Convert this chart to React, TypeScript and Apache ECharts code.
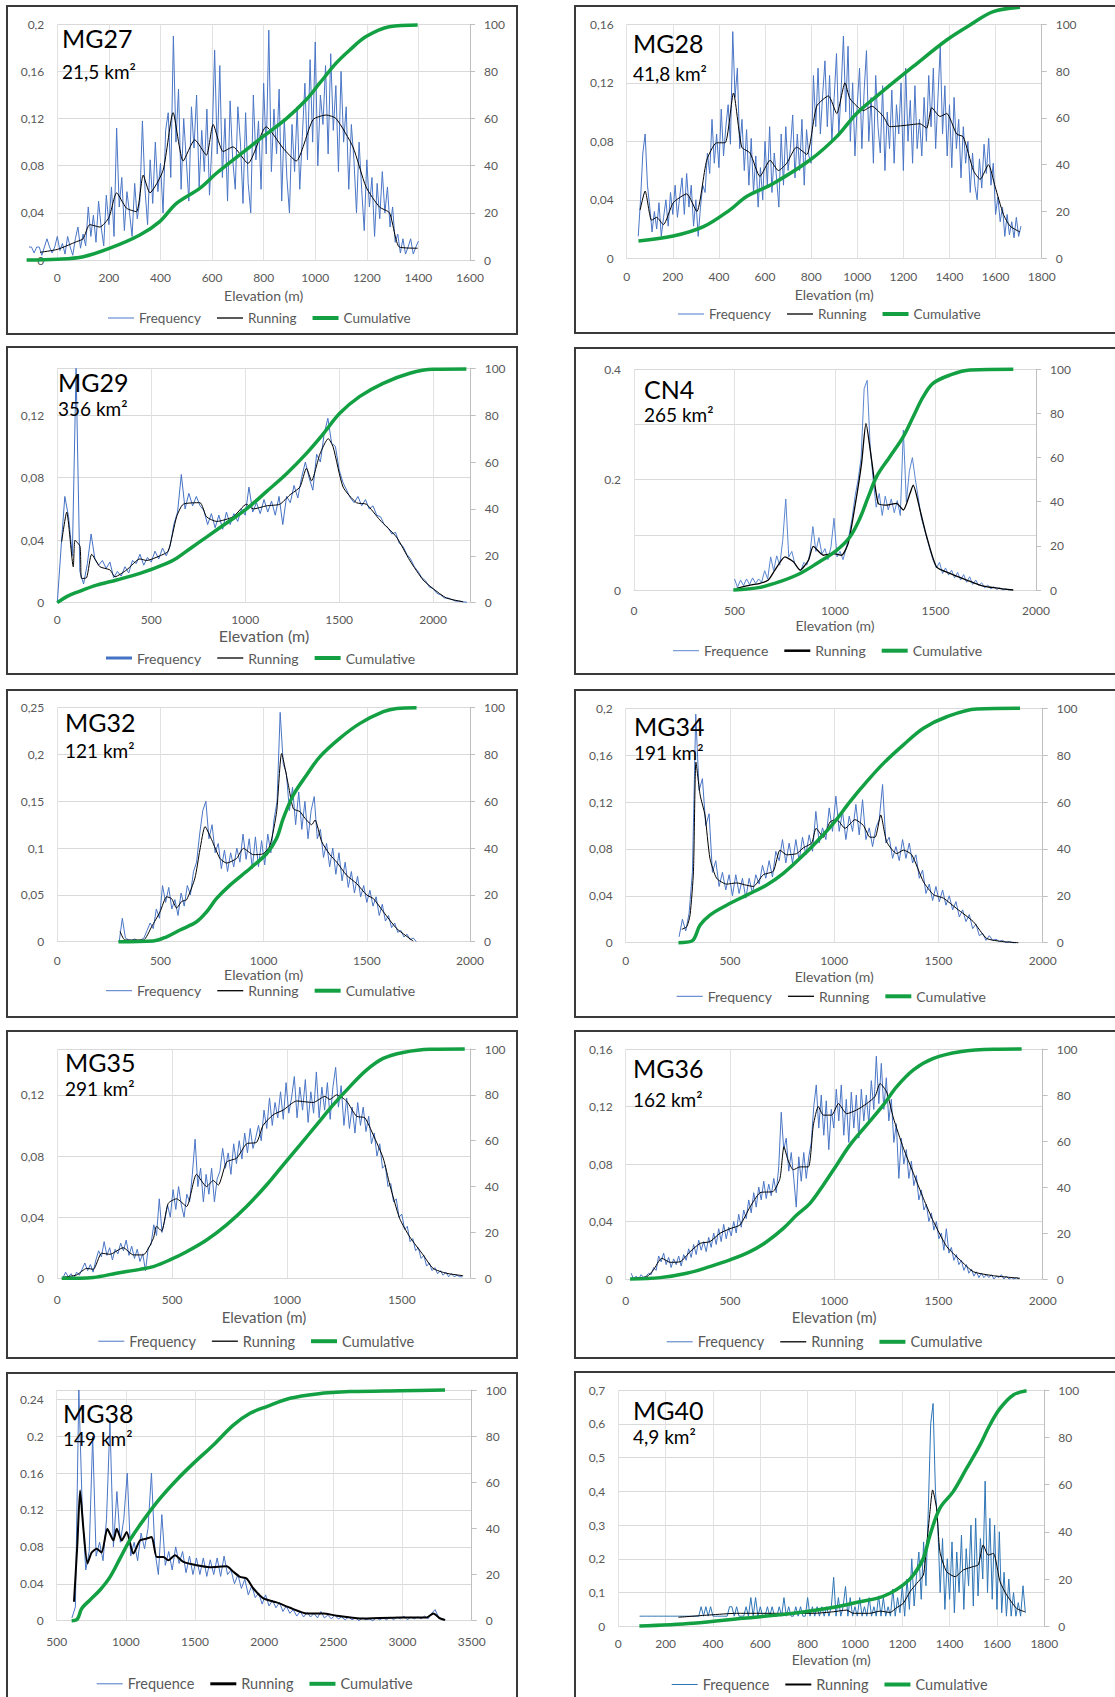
import React, { useEffect, useRef } from "react";
import * as echarts from "echarts";

const FONT = "Lato, 'Open Sans', sans-serif";

// ---------- MG27 ----------
const MG27_FREQ_START = -110;
const MG27_FREQ_STEP = 10;
const MG27_FREQ = [
  0.011, 0.011, 0.006, 0.011, 0.011, 0.004, 0.011, 0.018, 0.011, 0.006, 0.011, 0.02, 0.008, 0.014, 0.005, 0.02,
  0.011, 0.004, 0.018, 0.028, 0.01, 0.022, 0.012, 0.045, 0.02, 0.038, 0.015, 0.05, 0.028, 0.012, 0.055, 0.03,
  0.062, 0.02, 0.112, 0.045, 0.07, 0.025, 0.058, 0.04, 0.02, 0.065, 0.035, 0.05, 0.118, 0.06, 0.03, 0.085,
  0.048, 0.1, 0.058, 0.082, 0.04, 0.11, 0.125, 0.07, 0.19, 0.1, 0.145, 0.06, 0.12, 0.085, 0.05, 0.13,
  0.095, 0.14, 0.062, 0.11, 0.075, 0.128, 0.055, 0.1, 0.178, 0.09, 0.165, 0.07, 0.12, 0.05, 0.135, 0.085,
  0.06, 0.13, 0.1, 0.048, 0.125, 0.065, 0.04, 0.14, 0.085, 0.118, 0.06, 0.15, 0.09, 0.195, 0.075, 0.128,
  0.09, 0.145, 0.05, 0.12, 0.07, 0.04, 0.115, 0.075, 0.13, 0.06, 0.105, 0.15, 0.085, 0.17, 0.1, 0.185,
  0.08, 0.14, 0.115, 0.165, 0.09, 0.175, 0.11, 0.148, 0.075, 0.16, 0.1, 0.13, 0.06, 0.115, 0.085, 0.04,
  0.1, 0.06, 0.025, 0.085, 0.045, 0.07, 0.02, 0.065, 0.035, 0.075, 0.04, 0.062, 0.028, 0.045, 0.015, 0.022,
  0.006, 0.018, 0.005, 0.011, 0.018, 0.005, 0.011, 0.016,
];
const MG27_RUNNING = [
  [-67, 0.0065], [0, 0.009], [75, 0.0156], [100, 0.018], [126, 0.03], [165, 0.028], [200, 0.036], [230, 0.057],
  [268, 0.044], [307, 0.041], [333, 0.072], [359, 0.057], [410, 0.076], [449, 0.125], [488, 0.084], [533, 0.102],
  [578, 0.089], [604, 0.115], [643, 0.092], [681, 0.096], [739, 0.082], [810, 0.113], [875, 0.095], [926, 0.084],
  [991, 0.119], [1043, 0.123], [1081, 0.12], [1146, 0.096], [1197, 0.062], [1249, 0.045], [1288, 0.04],
  [1326, 0.011], [1397, 0.01],
];
const MG27_CUMULATIVE = [
  [-119, 0], [0, 0.3], [101, 1.4], [204, 5], [320, 10.6], [397, 16.3], [462, 24], [552, 30.4], [617, 36.8],
  [707, 44.6], [797, 52.3], [888, 60], [965, 68], [1017, 75], [1081, 83.5], [1133, 89], [1197, 94.8],
  [1287, 99], [1397, 99.7],
];

// ---------- MG28 ----------
const MG28_FREQ_START = 50;
const MG28_FREQ_STEP = 10;
const MG28_FREQ = [
  0.015, 0.04, 0.072, 0.085, 0.05, 0.035, 0.018, 0.032, 0.02, 0.038, 0.015, 0.028, 0.04, 0.022, 0.045, 0.03,
  0.05, 0.028, 0.042, 0.055, 0.03, 0.058, 0.035, 0.05, 0.022, 0.04, 0.015, 0.035, 0.05, 0.045, 0.072, 0.058,
  0.095, 0.065, 0.085, 0.062, 0.102, 0.07, 0.09, 0.105, 0.078, 0.155, 0.11, 0.13, 0.075, 0.095, 0.06, 0.088,
  0.05, 0.082, 0.045, 0.07, 0.035, 0.062, 0.04, 0.08, 0.05, 0.09, 0.045, 0.072, 0.055, 0.035, 0.085, 0.05,
  0.09, 0.06, 0.075, 0.098, 0.055, 0.085, 0.06, 0.095, 0.05, 0.088, 0.07, 0.065, 0.125, 0.09, 0.13, 0.085,
  0.112, 0.135, 0.09, 0.125, 0.08, 0.11, 0.14, 0.085, 0.115, 0.152, 0.1, 0.145, 0.08, 0.12, 0.07, 0.105,
  0.13, 0.075, 0.115, 0.142, 0.08, 0.11, 0.065, 0.125, 0.09, 0.072, 0.118, 0.06, 0.1, 0.075, 0.115, 0.065,
  0.105, 0.085, 0.12, 0.06, 0.13, 0.08, 0.108, 0.065, 0.118, 0.075, 0.095, 0.07, 0.11, 0.08, 0.125, 0.09,
  0.13, 0.075, 0.11, 0.145, 0.085, 0.118, 0.07, 0.105, 0.062, 0.11, 0.075, 0.095, 0.055, 0.09, 0.065, 0.08,
  0.045, 0.072, 0.05, 0.04, 0.068, 0.048, 0.078, 0.058, 0.082, 0.05, 0.065, 0.03, 0.042, 0.025, 0.035, 0.015,
  0.03, 0.016, 0.025, 0.014, 0.028, 0.015, 0.022,
];
const MG28_RUNNING = [
  [58, 0.033], [80, 0.046], [108, 0.026], [130, 0.028], [159, 0.023], [202, 0.038], [260, 0.044], [304, 0.032],
  [347, 0.067], [390, 0.079], [427, 0.079], [463, 0.113], [499, 0.076], [535, 0.072], [578, 0.056], [622, 0.067],
  [658, 0.06], [694, 0.065], [737, 0.076], [781, 0.071], [824, 0.104], [875, 0.111], [911, 0.099], [947, 0.12],
  [969, 0.109], [1027, 0.101], [1063, 0.104], [1113, 0.097], [1142, 0.09], [1214, 0.091], [1272, 0.092],
  [1301, 0.089], [1323, 0.103], [1359, 0.097], [1388, 0.099], [1431, 0.085], [1460, 0.083], [1504, 0.06],
  [1533, 0.054], [1569, 0.064], [1598, 0.049], [1634, 0.03], [1663, 0.022], [1706, 0.018],
];
const MG28_CUMULATIVE = [
  [51, 7.4], [202, 9.5], [333, 13.5], [448, 20.7], [520, 26.4], [636, 32], [795, 42], [911, 52], [998, 62],
  [1099, 70.5], [1243, 82], [1388, 93.3], [1489, 99.7], [1590, 105.4], [1706, 107.3],
];

// ---------- MG29 ----------
const MG29_FREQ_START = 0;
const MG29_FREQ_STEP = 20;
const MG29_FREQ = [
  0.0, 0.035, 0.068, 0.055, 0.03, 0.15, 0.02, 0.012, 0.025, 0.044, 0.028, 0.024, 0.027, 0.022, 0.026, 0.016,
  0.02, 0.017, 0.023, 0.019, 0.027, 0.025, 0.031, 0.024, 0.029, 0.026, 0.033, 0.028, 0.035, 0.03, 0.036, 0.05,
  0.058, 0.082, 0.06, 0.07, 0.062, 0.068, 0.062, 0.059, 0.05, 0.057, 0.048, 0.056, 0.047, 0.058, 0.05, 0.057,
  0.052, 0.06, 0.056, 0.074, 0.058, 0.064, 0.057, 0.066, 0.058, 0.065, 0.056, 0.068, 0.05, 0.068, 0.064, 0.075,
  0.067, 0.08, 0.09, 0.08, 0.072, 0.095, 0.09, 0.108, 0.118, 0.102, 0.1, 0.085, 0.077, 0.072, 0.067, 0.064,
  0.068, 0.062, 0.066, 0.06, 0.062, 0.056, 0.055, 0.05, 0.048, 0.044, 0.045, 0.038, 0.036, 0.031, 0.028, 0.023,
  0.02, 0.016, 0.014, 0.01, 0.009, 0.006, 0.005, 0.003, 0.003, 0.002, 0.001, 0.001, 0.0005, 0.0003,
];
const MG29_RUNNING = [
  [23, 0.039], [50, 0.058], [85, 0.023], [94, 0.04], [121, 0.036], [129, 0.0155], [156, 0.016], [183, 0.031],
  [227, 0.023], [280, 0.021], [307, 0.0166], [369, 0.021], [440, 0.028], [475, 0.027], [546, 0.03], [590, 0.033],
  [635, 0.055], [670, 0.063], [759, 0.064], [794, 0.055], [848, 0.052], [936, 0.055], [1007, 0.063], [1043, 0.06],
  [1113, 0.062], [1184, 0.063], [1238, 0.069], [1291, 0.074], [1326, 0.086], [1353, 0.078], [1397, 0.095],
  [1442, 0.105], [1468, 0.0996], [1521, 0.074], [1592, 0.064], [1645, 0.063], [1716, 0.053], [1805, 0.042],
  [1876, 0.027], [1947, 0.0145], [2000, 0.009], [2071, 0.003], [2160, 0.0006],
];
const MG29_CUMULATIVE = [
  [0, 0], [50, 2.6], [103, 4.4], [209, 7.5], [316, 9.7], [440, 12.5], [582, 16.8], [635, 19], [706, 23],
  [794, 28], [901, 34], [1007, 40], [1113, 47.4], [1220, 55], [1326, 63.7], [1415, 72], [1503, 80.8],
  [1610, 88], [1734, 93.6], [1876, 97.9], [2000, 99.6], [2177, 99.7],
];

// ---------- CN4 ----------
const CN4_FREQ_START = 500;
const CN4_FREQ_STEP = 15;
const CN4_FREQ = [
  0.02, 0.005, 0.018, 0.008, 0.02, 0.01, 0.022, 0.012, 0.02, 0.014, 0.035, 0.02, 0.06, 0.035, 0.062, 0.045,
  0.09, 0.165, 0.06, 0.07, 0.048, 0.04, 0.035, 0.05, 0.045, 0.065, 0.115, 0.07, 0.095, 0.065, 0.075, 0.055,
  0.078, 0.13, 0.06, 0.07, 0.055, 0.075, 0.1, 0.13, 0.17, 0.2, 0.24, 0.365, 0.38, 0.26, 0.2, 0.15,
  0.175, 0.135, 0.17, 0.145, 0.165, 0.14, 0.162, 0.135, 0.29, 0.16, 0.215, 0.24, 0.2, 0.165, 0.13, 0.11,
  0.09, 0.07, 0.052, 0.04, 0.05, 0.03, 0.04, 0.027, 0.036, 0.022, 0.032, 0.018, 0.028, 0.014, 0.024, 0.01,
  0.018, 0.008, 0.013, 0.004, 0.009, 0.002, 0.006, 0.001, 0.004, 0.0, 0.002, 0.0, 0.001,
];
const CN4_RUNNING = [
  [511, 0.003], [577, 0.009], [627, 0.012], [668, 0.018], [701, 0.036], [751, 0.06], [793, 0.051], [826, 0.036],
  [868, 0.054], [892, 0.079], [942, 0.063], [992, 0.066], [1033, 0.063], [1066, 0.085], [1099, 0.151],
  [1132, 0.229], [1154, 0.302], [1182, 0.236], [1215, 0.157], [1257, 0.154], [1306, 0.157], [1340, 0.145],
  [1373, 0.175], [1389, 0.19], [1423, 0.145], [1456, 0.097], [1505, 0.042], [1572, 0.03], [1655, 0.018],
  [1738, 0.007], [1887, 0],
];
const CN4_CUMULATIVE = [
  [494, 0], [627, 1.2], [726, 3.8], [826, 7.5], [909, 12], [1008, 18], [1074, 24], [1124, 32.5], [1166, 42.3],
  [1207, 51.4], [1273, 60.4], [1340, 69.5], [1389, 78.5], [1439, 87.6], [1489, 93.7], [1572, 97.4],
  [1671, 99.7], [1887, 100],
];

// ---------- MG32 ----------
const MG32_FREQ_START = 300;
const MG32_FREQ_STEP = 15;
const MG32_FREQ = [
  0.0, 0.025, 0.004, 0.002, 0.001, 0.003, 0.001, 0.002, 0.004, 0.012, 0.02, 0.014, 0.035, 0.025, 0.06, 0.042,
  0.058, 0.035, 0.045, 0.028, 0.052, 0.038, 0.06, 0.05, 0.075, 0.085, 0.115, 0.14, 0.15, 0.11, 0.125, 0.095,
  0.105, 0.078, 0.098, 0.075, 0.095, 0.08, 0.1, 0.085, 0.115, 0.088, 0.11, 0.078, 0.112, 0.08, 0.108, 0.082,
  0.115, 0.095, 0.13, 0.15, 0.245, 0.19, 0.18, 0.14, 0.165, 0.125, 0.16, 0.12, 0.15, 0.11, 0.14, 0.155,
  0.11, 0.12, 0.09, 0.105, 0.08, 0.1, 0.072, 0.095, 0.065, 0.085, 0.058, 0.075, 0.052, 0.07, 0.048, 0.06,
  0.042, 0.055, 0.038, 0.048, 0.028, 0.04, 0.022, 0.028, 0.015, 0.02, 0.01, 0.012, 0.005, 0.008, 0.002, 0.004,
  0.0,
];
const MG32_RUNNING = [
  [304, 0.011], [328, 0.0018], [417, 0.0018], [457, 0.016], [498, 0.032], [530, 0.048], [554, 0.046],
  [578, 0.036], [603, 0.043], [627, 0.045], [667, 0.068], [691, 0.098], [716, 0.123], [748, 0.109], [788, 0.089],
  [821, 0.084], [869, 0.089], [902, 0.0997], [950, 0.093], [999, 0.094], [1031, 0.103], [1063, 0.139],
  [1087, 0.201], [1120, 0.167], [1144, 0.142], [1176, 0.139], [1200, 0.132], [1233, 0.125], [1249, 0.13],
  [1281, 0.107], [1321, 0.093], [1354, 0.085], [1402, 0.071], [1451, 0.062], [1499, 0.05], [1532, 0.046],
  [1580, 0.032], [1645, 0.014], [1725, 0.0007],
];
const MG32_CUMULATIVE = [
  [296, 0], [465, 0.3], [530, 2.1], [595, 5], [675, 8.5], [724, 12.8], [772, 18.5], [837, 24.2], [934, 31.3],
  [1015, 37.7], [1063, 44.2], [1095, 52.7], [1144, 62.7], [1208, 71.2], [1272, 79], [1370, 87], [1467, 93.3],
  [1580, 98.3], [1645, 99.7], [1741, 100],
];

// ---------- MG34 ----------
const MG34_FREQ_START = 256;
const MG34_FREQ_STEP = 16;
const MG34_FREQ = [
  0.005, 0.02, 0.01, 0.025, 0.06, 0.195, 0.13, 0.14, 0.1, 0.11, 0.06, 0.07, 0.048, 0.06, 0.045, 0.058,
  0.04, 0.058, 0.042, 0.055, 0.038, 0.055, 0.042, 0.058, 0.05, 0.066, 0.055, 0.07, 0.056, 0.078, 0.07, 0.088,
  0.068, 0.085, 0.068, 0.088, 0.07, 0.09, 0.075, 0.092, 0.078, 0.112, 0.085, 0.098, 0.088, 0.115, 0.095, 0.125,
  0.095, 0.112, 0.088, 0.108, 0.095, 0.118, 0.092, 0.122, 0.088, 0.098, 0.082, 0.098, 0.105, 0.135, 0.085, 0.09,
  0.072, 0.082, 0.07, 0.088, 0.072, 0.085, 0.068, 0.075, 0.055, 0.062, 0.042, 0.05, 0.036, 0.048, 0.035, 0.045,
  0.032, 0.04, 0.028, 0.035, 0.022, 0.028, 0.018, 0.024, 0.012, 0.016, 0.006, 0.008, 0.002, 0.006, 0.002, 0.003,
  0.001, 0.002, 0.0, 0.001, 0.0, 0.0,
];
const MG34_RUNNING = [
  [269, 0.0114], [293, 0.0137], [309, 0.024], [325, 0.061], [337, 0.154], [357, 0.126], [380, 0.109],
  [404, 0.072], [436, 0.055], [484, 0.05], [532, 0.051], [580, 0.049], [612, 0.048], [660, 0.058], [708, 0.061],
  [740, 0.079], [772, 0.075], [820, 0.076], [852, 0.081], [892, 0.085], [913, 0.0976], [948, 0.09], [980, 0.103],
  [1012, 0.105], [1052, 0.0976], [1100, 0.105], [1140, 0.1], [1172, 0.09], [1196, 0.09], [1223, 0.109],
  [1252, 0.086], [1300, 0.076], [1332, 0.079], [1372, 0.075], [1428, 0.052], [1476, 0.041], [1524, 0.038],
  [1588, 0.029], [1667, 0.018], [1731, 0.0037], [1811, 0.0009], [1883, 0],
];
const MG34_CUMULATIVE = [
  [253, 0], [317, 0.7], [357, 7.5], [404, 11.8], [484, 16], [580, 20.3], [676, 24.6], [756, 29.6], [836, 36],
  [916, 43.1], [996, 50.9], [1076, 60.2], [1156, 68.7], [1236, 76.5], [1332, 84.4], [1428, 91.5], [1540, 96.4],
  [1683, 99.7], [1891, 100],
];

// ---------- MG35 ----------
const MG35_FREQ_START = 24;
const MG35_FREQ_STEP = 12;
const MG35_FREQ = [
  0.0, 0.004, 0.001, 0.003, 0.0, 0.004, 0.002, 0.006, 0.01, 0.005, 0.009, 0.004, 0.012, 0.018, 0.014, 0.024,
  0.015, 0.02, 0.012, 0.019, 0.016, 0.023, 0.018, 0.025, 0.015, 0.021, 0.013, 0.019, 0.011, 0.016, 0.005, 0.02,
  0.022, 0.035, 0.028, 0.052, 0.03, 0.038, 0.048, 0.04, 0.058, 0.045, 0.06, 0.048, 0.04, 0.055, 0.05, 0.068,
  0.091, 0.06, 0.072, 0.05, 0.068, 0.055, 0.072, 0.05, 0.065, 0.07, 0.085, 0.072, 0.082, 0.068, 0.088, 0.075,
  0.09, 0.078, 0.095, 0.082, 0.098, 0.085, 0.092, 0.1, 0.09, 0.11, 0.098, 0.118, 0.1, 0.115, 0.105, 0.122,
  0.104, 0.128, 0.108, 0.118, 0.132, 0.105, 0.125, 0.11, 0.13, 0.102, 0.122, 0.108, 0.135, 0.105, 0.125, 0.11,
  0.128, 0.104, 0.125, 0.138, 0.112, 0.126, 0.1, 0.118, 0.098, 0.112, 0.095, 0.115, 0.1, 0.112, 0.096, 0.106,
  0.088, 0.095, 0.08, 0.088, 0.072, 0.074, 0.06, 0.062, 0.05, 0.052, 0.04, 0.042, 0.032, 0.034, 0.024, 0.026,
  0.018, 0.02, 0.013, 0.015, 0.008, 0.01, 0.005, 0.007, 0.003, 0.005, 0.002, 0.004, 0.001, 0.003, 0.001, 0.002,
  0.001, 0.001,
];
const MG35_RUNNING = [
  [26, 0.0007], [84, 0.0022], [128, 0.0065], [157, 0.0059], [193, 0.0164], [229, 0.0157], [287, 0.02],
  [331, 0.0153], [374, 0.0153], [418, 0.026], [432, 0.034], [454, 0.031], [483, 0.049], [519, 0.052],
  [563, 0.047], [606, 0.068], [650, 0.06], [679, 0.064], [701, 0.061], [737, 0.076], [781, 0.0786], [824, 0.088],
  [868, 0.089], [896, 0.1], [940, 0.107], [983, 0.11], [1042, 0.116], [1114, 0.115], [1165, 0.119],
  [1187, 0.117], [1216, 0.12], [1259, 0.116], [1303, 0.106], [1339, 0.105], [1375, 0.094], [1419, 0.0786],
  [1448, 0.061], [1491, 0.039], [1535, 0.027], [1593, 0.0153], [1636, 0.0065], [1694, 0.0033], [1767, 0.0017],
];
const MG35_CUMULATIVE = [
  [19, 0], [157, 0.4], [258, 2.2], [360, 3.9], [418, 5.1], [490, 8], [563, 11.6], [650, 16.7], [737, 23.3],
  [824, 31.3], [911, 40.7], [983, 49.4], [1056, 58.1], [1129, 66.9], [1201, 75.6], [1274, 83.6], [1346, 90.8],
  [1419, 95.9], [1506, 98.5], [1622, 99.9], [1774, 100],
];

// ---------- MG36 ----------
const MG36_FREQ_START = 26;
const MG36_FREQ_STEP = 12;
const MG36_FREQ = [
  0.004, 0.0, 0.002, 0.0, 0.003, 0.001, 0.002, 0.004, 0.003, 0.008, 0.006, 0.016, 0.012, 0.018, 0.01, 0.015,
  0.008, 0.014, 0.01, 0.016, 0.009, 0.017, 0.013, 0.021, 0.015, 0.024, 0.017, 0.027, 0.02, 0.026, 0.019, 0.029,
  0.022, 0.032, 0.024, 0.035, 0.026, 0.038, 0.028, 0.036, 0.03, 0.04, 0.032, 0.045, 0.036, 0.048, 0.042, 0.055,
  0.046, 0.06, 0.05, 0.064, 0.055, 0.068, 0.056, 0.066, 0.058, 0.07, 0.06, 0.078, 0.116, 0.09, 0.098, 0.075,
  0.088, 0.07, 0.05, 0.085, 0.068, 0.088, 0.07, 0.085, 0.095, 0.12, 0.135, 0.105, 0.128, 0.1, 0.124, 0.09,
  0.118, 0.105, 0.132, 0.11, 0.135, 0.1, 0.125, 0.095, 0.13, 0.105, 0.128, 0.098, 0.132, 0.11, 0.128, 0.108,
  0.138, 0.118, 0.155, 0.122, 0.15, 0.118, 0.14, 0.11, 0.125, 0.095, 0.108, 0.07, 0.098, 0.08, 0.09, 0.07,
  0.082, 0.065, 0.072, 0.055, 0.062, 0.048, 0.052, 0.04, 0.046, 0.034, 0.04, 0.028, 0.032, 0.02, 0.035, 0.018,
  0.022, 0.013, 0.017, 0.01, 0.013, 0.006, 0.01, 0.004, 0.007, 0.002, 0.005, 0.001, 0.004, 0.001, 0.003, 0.001,
  0.003, 0.0, 0.002, 0.001, 0.003, 0.0, 0.002, 0.0, 0.001, 0.0, 0.001, 0.0,
];
const MG36_RUNNING = [
  [29, 0.0005], [101, 0.0016], [133, 0.0063], [173, 0.0144], [213, 0.0116], [261, 0.012], [309, 0.019],
  [357, 0.0248], [404, 0.026], [452, 0.0318], [500, 0.035], [548, 0.0376], [596, 0.05], [644, 0.06],
  [708, 0.061], [740, 0.07], [759, 0.092], [780, 0.082], [804, 0.076], [836, 0.078], [876, 0.078], [900, 0.107],
  [924, 0.12], [948, 0.114], [988, 0.114], [1020, 0.122], [1060, 0.115], [1108, 0.1176], [1156, 0.122],
  [1196, 0.127], [1220, 0.136], [1252, 0.13], [1284, 0.112], [1332, 0.091], [1380, 0.0735], [1428, 0.056],
  [1476, 0.04], [1540, 0.0225], [1604, 0.0132], [1667, 0.0051], [1763, 0.0023], [1891, 0.0005],
];
const MG36_CUMULATIVE = [
  [21, 0], [165, 0.6], [293, 2.5], [404, 5.4], [500, 8.3], [596, 11.9], [676, 16.2], [756, 22], [820, 27.8],
  [884, 32.9], [948, 40.9], [1012, 49.6], [1076, 58.3], [1156, 67], [1236, 75.7], [1300, 83.6], [1380, 90.9],
  [1476, 95.9], [1604, 98.8], [1763, 99.9], [1899, 100],
];

// ---------- MG38 ----------
const MG38_FREQ_START = 610;
const MG38_FREQ_STEP = 25;
const MG38_FREQ = [
  0.003, 0.015, 0.25, 0.12, 0.055, 0.075, 0.2, 0.07, 0.085, 0.065, 0.11, 0.215, 0.08, 0.14, 0.085, 0.11,
  0.16, 0.07, 0.085, 0.065, 0.095, 0.078, 0.1, 0.16, 0.075, 0.05, 0.115, 0.06, 0.075, 0.055, 0.08, 0.062,
  0.075, 0.052, 0.07, 0.05, 0.068, 0.05, 0.068, 0.048, 0.066, 0.05, 0.068, 0.048, 0.07, 0.05, 0.055, 0.04,
  0.05, 0.035, 0.045, 0.028, 0.038, 0.025, 0.03, 0.018, 0.028, 0.016, 0.022, 0.014, 0.02, 0.01, 0.016, 0.008,
  0.012, 0.005, 0.01, 0.004, 0.009, 0.004, 0.008, 0.003, 0.01, 0.003, 0.006, 0.002, 0.006, 0.002, 0.004, 0.001,
  0.004, 0.001, 0.003, 0.0, 0.003, 0.001, 0.002, 0.0, 0.003, 0.001, 0.003, 0.001, 0.004, 0.001, 0.004, 0.002,
  0.005, 0.001, 0.004, 0.002, 0.004, 0.002, 0.005, 0.002, 0.008, 0.012, 0.004, 0.002, 0.001,
];
const MG38_RUNNING = [
  [625, 0.0205], [649, 0.082], [669, 0.141], [693, 0.0996], [722, 0.062], [753, 0.074], [789, 0.078],
  [825, 0.074], [866, 0.0996], [910, 0.087], [934, 0.0996], [970, 0.087], [1006, 0.096], [1054, 0.0727],
  [1102, 0.087], [1151, 0.089], [1187, 0.0906], [1223, 0.069], [1271, 0.069], [1307, 0.0655], [1355, 0.0709],
  [1416, 0.0637], [1512, 0.06], [1608, 0.058], [1729, 0.059], [1777, 0.053], [1825, 0.0475], [1873, 0.0457],
  [1922, 0.0349], [1994, 0.0241], [2090, 0.0198], [2187, 0.014], [2307, 0.0079], [2427, 0.0079],
  [2524, 0.0054], [2693, 0.0025], [2982, 0.0036], [3175, 0.0036], [3223, 0.0079], [3271, 0.0025], [3307, 0.0007],
];
const MG38_CUMULATIVE = [
  [608, 0], [649, 0.7], [681, 5.3], [741, 9], [813, 13.3], [886, 19], [958, 27], [1030, 35], [1127, 43.6],
  [1247, 53], [1367, 61], [1488, 68.2], [1633, 76.2], [1777, 84.8], [1898, 89.9], [2018, 92.8], [2187, 96.4],
  [2380, 98.3], [2620, 99.3], [2982, 99.7], [3307, 100],
];

// ---------- MG40 ----------
const MG40_FREQ_START = 90;
const MG40_FREQ_STEP = 10;
const MG40_FREQ = [
  0.03, 0.03, 0.03, 0.03, 0.03, 0.03, 0.03, 0.03, 0.03, 0.03, 0.03, 0.03, 0.03, 0.03, 0.03, 0.03,
  0.03, 0.03, 0.03, 0.03, 0.03, 0.03, 0.03, 0.03, 0.03, 0.03, 0.058, 0.03, 0.058, 0.03, 0.058, 0.03,
  0.03, 0.03, 0.03, 0.03, 0.03, 0.03, 0.058, 0.058, 0.03, 0.058, 0.03, 0.03, 0.03, 0.058, 0.03, 0.085,
  0.03, 0.085, 0.03, 0.058, 0.03, 0.03, 0.058, 0.03, 0.058, 0.03, 0.03, 0.058, 0.03, 0.085, 0.03, 0.058,
  0.03, 0.03, 0.058, 0.03, 0.058, 0.03, 0.03, 0.085, 0.03, 0.058, 0.03, 0.058, 0.03, 0.058, 0.03, 0.058,
  0.03, 0.058, 0.145, 0.03, 0.085, 0.03, 0.058, 0.118, 0.03, 0.085, 0.03, 0.058, 0.03, 0.085, 0.03, 0.058,
  0.03, 0.085, 0.03, 0.058, 0.03, 0.09, 0.03, 0.085, 0.03, 0.058, 0.03, 0.11, 0.03, 0.085, 0.04, 0.12,
  0.03, 0.14, 0.05, 0.2, 0.06, 0.15, 0.22, 0.08, 0.25, 0.12, 0.35, 0.6, 0.66, 0.4, 0.3, 0.1,
  0.26, 0.05, 0.2, 0.08, 0.25, 0.04, 0.22, 0.1, 0.27, 0.05, 0.23, 0.12, 0.3, 0.06, 0.32, 0.09,
  0.26, 0.14, 0.43, 0.1, 0.32, 0.08, 0.3, 0.05, 0.28, 0.04, 0.16, 0.03, 0.14, 0.03, 0.1, 0.03,
  0.07, 0.03, 0.12, 0.04,
];
const MG40_RUNNING = [
  [254, 0.0267], [387, 0.0336], [500, 0.0385], [669, 0.0385], [824, 0.0385], [908, 0.043], [965, 0.048],
  [993, 0.0385], [1063, 0.0385], [1106, 0.045], [1148, 0.041], [1176, 0.055], [1204, 0.068], [1233, 0.103],
  [1261, 0.127], [1289, 0.152], [1303, 0.241], [1317, 0.34], [1328, 0.404], [1345, 0.349], [1359, 0.221],
  [1387, 0.162], [1423, 0.147], [1458, 0.167], [1500, 0.177], [1521, 0.182], [1542, 0.241], [1563, 0.211],
  [1585, 0.216], [1613, 0.132], [1641, 0.093], [1683, 0.053], [1718, 0.043],
];
const MG40_CUMULATIVE = [
  [89, 0.1], [317, 1.3], [528, 3.4], [740, 5.5], [923, 8.3], [1021, 10.4], [1092, 11.8], [1148, 14],
  [1204, 17.5], [1247, 21.7], [1289, 28.8], [1317, 38.6], [1359, 50], [1415, 57], [1472, 66.9], [1528, 76.7],
  [1570, 85.2], [1613, 92.2], [1669, 97.9], [1725, 99.7],
];

type Panel = {
  id: string;
  area: string;
  freqName: string;
  freqStart: number;
  freqStep: number;
  freq: number[];
  run: number[][];
  cum: number[][];
  box: number[];
  grid: number[];
  xMin: number;
  xMax: number;
  xInt: number;
  dataXMin?: number;
  hideXMax?: boolean;
  yMax: number;
  yInt: number;
  dec: string;
  hideYMax?: boolean;
  yLabelStep?: number;
  labelMargin: number;
  xName?: string;
  nameGap: number;
  nameSize: number;
  legendX: number;
  legendY: number;
  legendSize: number;
  titleX: number;
  titleY: number;
  areaY: number;
  freqColor: string;
  runWidth: number;
  freqIconW: number;
  runIconW: number;
};

const EL = "Elevation (m)";

const PANELS: Panel[] = [
  {
    id: "MG27", area: "21,5 km²", freqName: "Frequency", freqStart: MG27_FREQ_START, freqStep: MG27_FREQ_STEP,
    freq: MG27_FREQ, run: MG27_RUNNING, cum: MG27_CUMULATIVE, box: [7, 6, 510, 328], grid: [57.3, 24.3, 412.7, 235.7],
    xMin: 0, xMax: 1600, xInt: 200, dataXMin: -200, yMax: 0.2, yInt: 0.04, dec: ",", labelMargin: 11, xName: EL,
    nameGap: 28, nameSize: 14, legendX: 108, legendY: 319, legendSize: 13.5, titleX: 62, titleY: 38, areaY: 71,
    freqColor: "#4a76c6", runWidth: 1, freqIconW: 1, runIconW: 1.3,
  },
  {
    id: "MG28", area: "41,8 km²", freqName: "Frequency", freqStart: MG28_FREQ_START, freqStep: MG28_FREQ_STEP,
    freq: MG28_FREQ, run: MG28_RUNNING, cum: MG28_CUMULATIVE, box: [575, 6, 600, 327], grid: [626.7, 24.3, 415, 234],
    xMin: 0, xMax: 1800, xInt: 200, yMax: 0.16, yInt: 0.04, dec: ",", labelMargin: 11.7, xName: EL, nameGap: 28.7,
    nameSize: 14, legendX: 678, legendY: 315, legendSize: 13.5, titleX: 633, titleY: 43, areaY: 73,
    freqColor: "#4a76c6", runWidth: 1, freqIconW: 1, runIconW: 1.3,
  },
  {
    id: "MG29", area: "356 km²", freqName: "Frequency", freqStart: MG29_FREQ_START, freqStep: MG29_FREQ_STEP,
    freq: MG29_FREQ, run: MG29_RUNNING, cum: MG29_CUMULATIVE, box: [7, 347, 510, 327], grid: [57.3, 368.3, 413.4, 234.4],
    xMin: 0, xMax: 2200, xInt: 500, hideXMax: true, yMax: 0.15, yInt: 0.04, dec: ",", hideYMax: true,
    labelMargin: 11, xName: EL, nameGap: 25, nameSize: 16, legendX: 106, legendY: 659, legendSize: 14,
    titleX: 58, titleY: 382, areaY: 408, freqColor: "#4472c4", runWidth: 1, freqIconW: 3, runIconW: 1.3,
  },
  {
    id: "CN4", area: "265 km²", freqName: "Frequence", freqStart: CN4_FREQ_START, freqStep: CN4_FREQ_STEP,
    freq: CN4_FREQ, run: CN4_RUNNING, cum: CN4_CUMULATIVE, box: [575, 348, 600, 326], grid: [634, 369.3, 402, 220.7],
    xMin: 0, xMax: 2000, xInt: 500, yMax: 0.4, yInt: 0.1, dec: ".", yLabelStep: 2, labelMargin: 14, xName: EL,
    nameGap: 28, nameSize: 14, legendX: 673, legendY: 651.7, legendSize: 14, titleX: 644, titleY: 389, areaY: 414,
    freqColor: "#5a86d0", runWidth: 1.3, freqIconW: 1, runIconW: 2.5,
  },
  {
    id: "MG32", area: "121 km²", freqName: "Frequency", freqStart: MG32_FREQ_START, freqStep: MG32_FREQ_STEP,
    freq: MG32_FREQ, run: MG32_RUNNING, cum: MG32_CUMULATIVE, box: [7, 690, 510, 327], grid: [57.3, 707.7, 412.7, 234],
    xMin: 0, xMax: 2000, xInt: 500, yMax: 0.25, yInt: 0.05, dec: ",", labelMargin: 12.3, xName: EL, nameGap: 26,
    nameSize: 14, legendX: 106, legendY: 991.7, legendSize: 14, titleX: 65, titleY: 721.7, areaY: 750,
    freqColor: "#4a76c6", runWidth: 1, freqIconW: 1, runIconW: 1.3,
  },
  {
    id: "MG34", area: "191 km²", freqName: "Frequency", freqStart: MG34_FREQ_START, freqStep: MG34_FREQ_STEP,
    freq: MG34_FREQ, run: MG34_RUNNING, cum: MG34_CUMULATIVE, box: [575, 690, 600, 327], grid: [625.7, 708.3, 417, 234.4],
    xMin: 0, xMax: 2000, xInt: 500, yMax: 0.2, yInt: 0.04, dec: ",", labelMargin: 12, xName: EL, nameGap: 27,
    nameSize: 14, legendX: 676.7, legendY: 997.3, legendSize: 14, titleX: 634, titleY: 725.5, areaY: 752.5,
    freqColor: "#4a76c6", runWidth: 1, freqIconW: 1, runIconW: 1.3,
  },
  {
    id: "MG35", area: "291 km²", freqName: "Frequency", freqStart: MG35_FREQ_START, freqStep: MG35_FREQ_STEP,
    freq: MG35_FREQ, run: MG35_RUNNING, cum: MG35_CUMULATIVE, box: [7, 1031, 510, 327], grid: [57.3, 1049, 413.4, 229.3],
    xMin: 0, xMax: 1800, xInt: 500, hideXMax: true, yMax: 0.15, yInt: 0.04, dec: ",", hideYMax: true,
    labelMargin: 14.7, xName: EL, nameGap: 31, nameSize: 15, legendX: 98.3, legendY: 1341.7, legendSize: 14.5,
    titleX: 65, titleY: 1062.3, areaY: 1088.3, freqColor: "#4a76c6", runWidth: 1, freqIconW: 1, runIconW: 1.3,
  },
  {
    id: "MG36", area: "162 km²", freqName: "Frequency", freqStart: MG36_FREQ_START, freqStep: MG36_FREQ_STEP,
    freq: MG36_FREQ, run: MG36_RUNNING, cum: MG36_CUMULATIVE, box: [575, 1031, 600, 327], grid: [625.7, 1049, 417, 230],
    xMin: 0, xMax: 2000, xInt: 500, yMax: 0.16, yInt: 0.04, dec: ",", labelMargin: 15, xName: EL, nameGap: 30.7,
    nameSize: 15, legendX: 666.7, legendY: 1342.3, legendSize: 14.5, titleX: 633, titleY: 1068.3, areaY: 1099,
    freqColor: "#4a76c6", runWidth: 1, freqIconW: 1, runIconW: 1.3,
  },
  {
    id: "MG38", area: "149 km²", freqName: "Frequence", freqStart: MG38_FREQ_START, freqStep: MG38_FREQ_STEP,
    freq: MG38_FREQ, run: MG38_RUNNING, cum: MG38_CUMULATIVE, box: [7, 1373, 510, 400], grid: [56.7, 1390, 415, 230.7],
    xMin: 500, xMax: 3500, xInt: 500, yMax: 0.25, yInt: 0.04, dec: ".", hideYMax: true, labelMargin: 14.3,
    nameGap: 28, nameSize: 14, legendX: 96.7, legendY: 1684.3, legendSize: 14.5, titleX: 63, titleY: 1413.3,
    areaY: 1438.3, freqColor: "#4a76c6", runWidth: 2, freqIconW: 1, runIconW: 3,
  },
  {
    id: "MG40", area: "4,9 km²", freqName: "Frequence", freqStart: MG40_FREQ_START, freqStep: MG40_FREQ_STEP,
    freq: MG40_FREQ, run: MG40_RUNNING, cum: MG40_CUMULATIVE, box: [575, 1372, 600, 400], grid: [618.3, 1390, 426, 236.3],
    xMin: 0, xMax: 1800, xInt: 200, yMax: 0.7, yInt: 0.1, dec: ",", labelMargin: 11, xName: EL, nameGap: 25.7,
    nameSize: 14, legendX: 671.7, legendY: 1685, legendSize: 14.5, titleX: 633, titleY: 1410, areaY: 1436.7,
    freqColor: "#2e75b6", runWidth: 1, freqIconW: 1, runIconW: 2,
  },
];

const LABEL_COLOR = "#595959";
const GRID_COLOR = "#d9d9d9";
const GREEN = "#13a043";
const ICON_W = 26;
const ICON_H = 14;

// Horizontal bar icon of thickness t inside a 26x14 box (corner moves fix the bounding box).
function lineIcon(t: number) {
  const y0 = (ICON_H - t) / 2;
  const y1 = y0 + t;
  return `path://M0,0M0,${y0}L${ICON_W},${y0}L${ICON_W},${y1}L0,${y1}ZM${ICON_W},${ICON_H}`;
}

function buildOption() {
  const grid: any[] = [];
  const xAxis: any[] = [];
  const yAxis: any[] = [];
  const series: any[] = [];
  const legend: any[] = [];
  const graphic: any[] = [];

  PANELS.forEach((p, k) => {
    const gi = grid.length;
    grid.push({
      left: p.grid[0], top: p.grid[1], width: p.grid[2], height: p.grid[3],
      containLabel: false, outerBoundsMode: "none",
    });
    const xi = xAxis.length;
    xAxis.push({
      type: "value", gridIndex: gi, min: p.xMin, max: p.xMax, interval: p.xInt,
      axisLine: { show: true, lineStyle: { color: GRID_COLOR } },
      axisTick: { show: false },
      splitLine: { show: true, lineStyle: { color: "#e2e2e2", width: 1 } },
      axisLabel: {
        color: LABEL_COLOR, fontSize: 12, lineHeight: 12, fontFamily: FONT, margin: p.labelMargin,
        showMaxLabel: !p.hideXMax, formatter: (v: number) => String(v),
      },
      name: p.xName || "", nameLocation: "middle", nameGap: p.nameGap, nameMoveOverlap: false,
      nameTextStyle: { color: LABEL_COLOR, fontSize: p.nameSize, lineHeight: p.nameSize, fontFamily: FONT },
    });
    const yl = yAxis.length;
    yAxis.push({
      type: "value", gridIndex: gi, position: "left", min: 0, max: p.yMax, interval: p.yInt,
      axisLine: { show: false }, axisTick: { show: false },
      splitLine: { show: true, lineStyle: { color: GRID_COLOR, width: 1 } },
      axisLabel: {
        color: LABEL_COLOR, fontSize: 12, fontFamily: FONT, margin: 13, showMaxLabel: !p.hideYMax,
        formatter: (v: number) => {
          if (p.yLabelStep && Math.round(v / p.yInt) % p.yLabelStep !== 0) return "";
          const s = String(parseFloat(v.toFixed(4)));
          return p.dec === "," ? s.replace(".", ",") : s;
        },
      },
    });
    const yr = yAxis.length;
    yAxis.push({
      type: "value", gridIndex: gi, position: "right", min: 0, max: 100, interval: 20,
      axisLine: { show: true, lineStyle: { color: "#bfbfbf" } },
      axisTick: { show: true, length: 5, lineStyle: { color: "#bfbfbf" } },
      splitLine: { show: false },
      axisLabel: { color: LABEL_COLOR, fontSize: 12, fontFamily: FONT, margin: 14 },
    });

    // data grid: same scale, possibly extended to the left of the visible axis start
    let dx = xi;
    let dyl = yl;
    let dyr = yr;
    if (p.dataXMin !== undefined) {
      const ppu = p.grid[2] / (p.xMax - p.xMin);
      const extra = (p.xMin - p.dataXMin) * ppu;
      const dgi = grid.length;
      grid.push({
        left: p.grid[0] - extra, top: p.grid[1], width: p.grid[2] + extra, height: p.grid[3],
        containLabel: false, outerBoundsMode: "none", show: false,
      });
      dx = xAxis.length;
      xAxis.push({ type: "value", gridIndex: dgi, min: p.dataXMin, max: p.xMax, show: false, splitLine: { show: false } });
      dyl = yAxis.length;
      yAxis.push({ type: "value", gridIndex: dgi, min: 0, max: p.yMax, show: false, splitLine: { show: false } });
      dyr = yAxis.length;
      yAxis.push({ type: "value", gridIndex: dgi, min: 0, max: 100, show: false, splitLine: { show: false } });
    }

    const fName = `${p.freqName}|${k}`;
    const rName = `Running|${k}`;
    const cName = `Cumulative|${k}`;
    series.push({
      name: fName, type: "line", xAxisIndex: dx, yAxisIndex: dyl, clip: false,
      data: p.freq.map((v, i) => [p.freqStart + p.freqStep * i, v]),
      symbol: "none", showSymbol: false, lineStyle: { color: p.freqColor, width: 1 }, itemStyle: { color: p.freqColor },
    });
    series.push({
      name: rName, type: "line", xAxisIndex: dx, yAxisIndex: dyl, clip: false, smooth: 0.2,
      data: p.run, symbol: "none", showSymbol: false,
      lineStyle: { color: "#000", width: p.runWidth }, itemStyle: { color: "#000" },
    });
    series.push({
      name: cName, type: "line", xAxisIndex: dx, yAxisIndex: dyr, clip: false, smooth: 0.35,
      data: p.cum, symbol: "none", showSymbol: false,
      lineStyle: { color: GREEN, width: 3.5 }, itemStyle: { color: GREEN },
    });

    legend.push({
      left: p.legendX, top: p.legendY - 8, padding: 0, orient: "horizontal",
      itemWidth: ICON_W, itemHeight: ICON_H, itemGap: 16, selectedMode: false,
      itemStyle: { borderWidth: 0 },
      data: [
        { name: fName, icon: lineIcon(p.freqIconW) },
        { name: rName, icon: lineIcon(p.runIconW) },
        { name: cName, icon: lineIcon(4) },
      ],
      formatter: (n: string) => n.split("|")[0],
      textStyle: { color: LABEL_COLOR, fontSize: p.legendSize, fontFamily: FONT },
    });

    graphic.push({
      type: "rect", silent: true, z: 10,
      shape: { x: p.box[0], y: p.box[1], width: p.box[2], height: p.box[3] },
      style: { fill: "none", stroke: "#3a3a3a", lineWidth: 2 },
    });
    graphic.push({
      type: "text", x: p.titleX, y: p.titleY, z: 10,
      style: {
        text: p.id, fontSize: 25, lineHeight: 22, fontFamily: FONT, fill: "#000",
        verticalAlign: "middle", align: "left",
      },
    });
    graphic.push({
      type: "text", x: p.titleX, y: p.areaY, z: 10,
      style: {
        text: p.area, fontSize: 19, lineHeight: 17, fontFamily: FONT, fill: "#000",
        verticalAlign: "middle", align: "left",
      },
    });
  });

  return {
    animation: false,
    backgroundColor: "#fff",
    textStyle: { fontFamily: FONT },
    grid, xAxis, yAxis, series, legend, graphic,
  };
}

export default function App() {
  const ref = useRef<HTMLDivElement>(null);
  useEffect(() => {
    if (!ref.current) return;
    const chart = echarts.init(ref.current, null, { renderer: "svg" });
    chart.setOption(buildOption() as any);
    return () => chart.dispose();
  }, []);
  return (
    <div style={{ position: "fixed", left: 0, top: 0, width: 1115, height: 1697, overflow: "hidden", background: "#fff" }}>
      <div ref={ref} style={{ width: 1115, height: 1697 }} />
    </div>
  );
}
